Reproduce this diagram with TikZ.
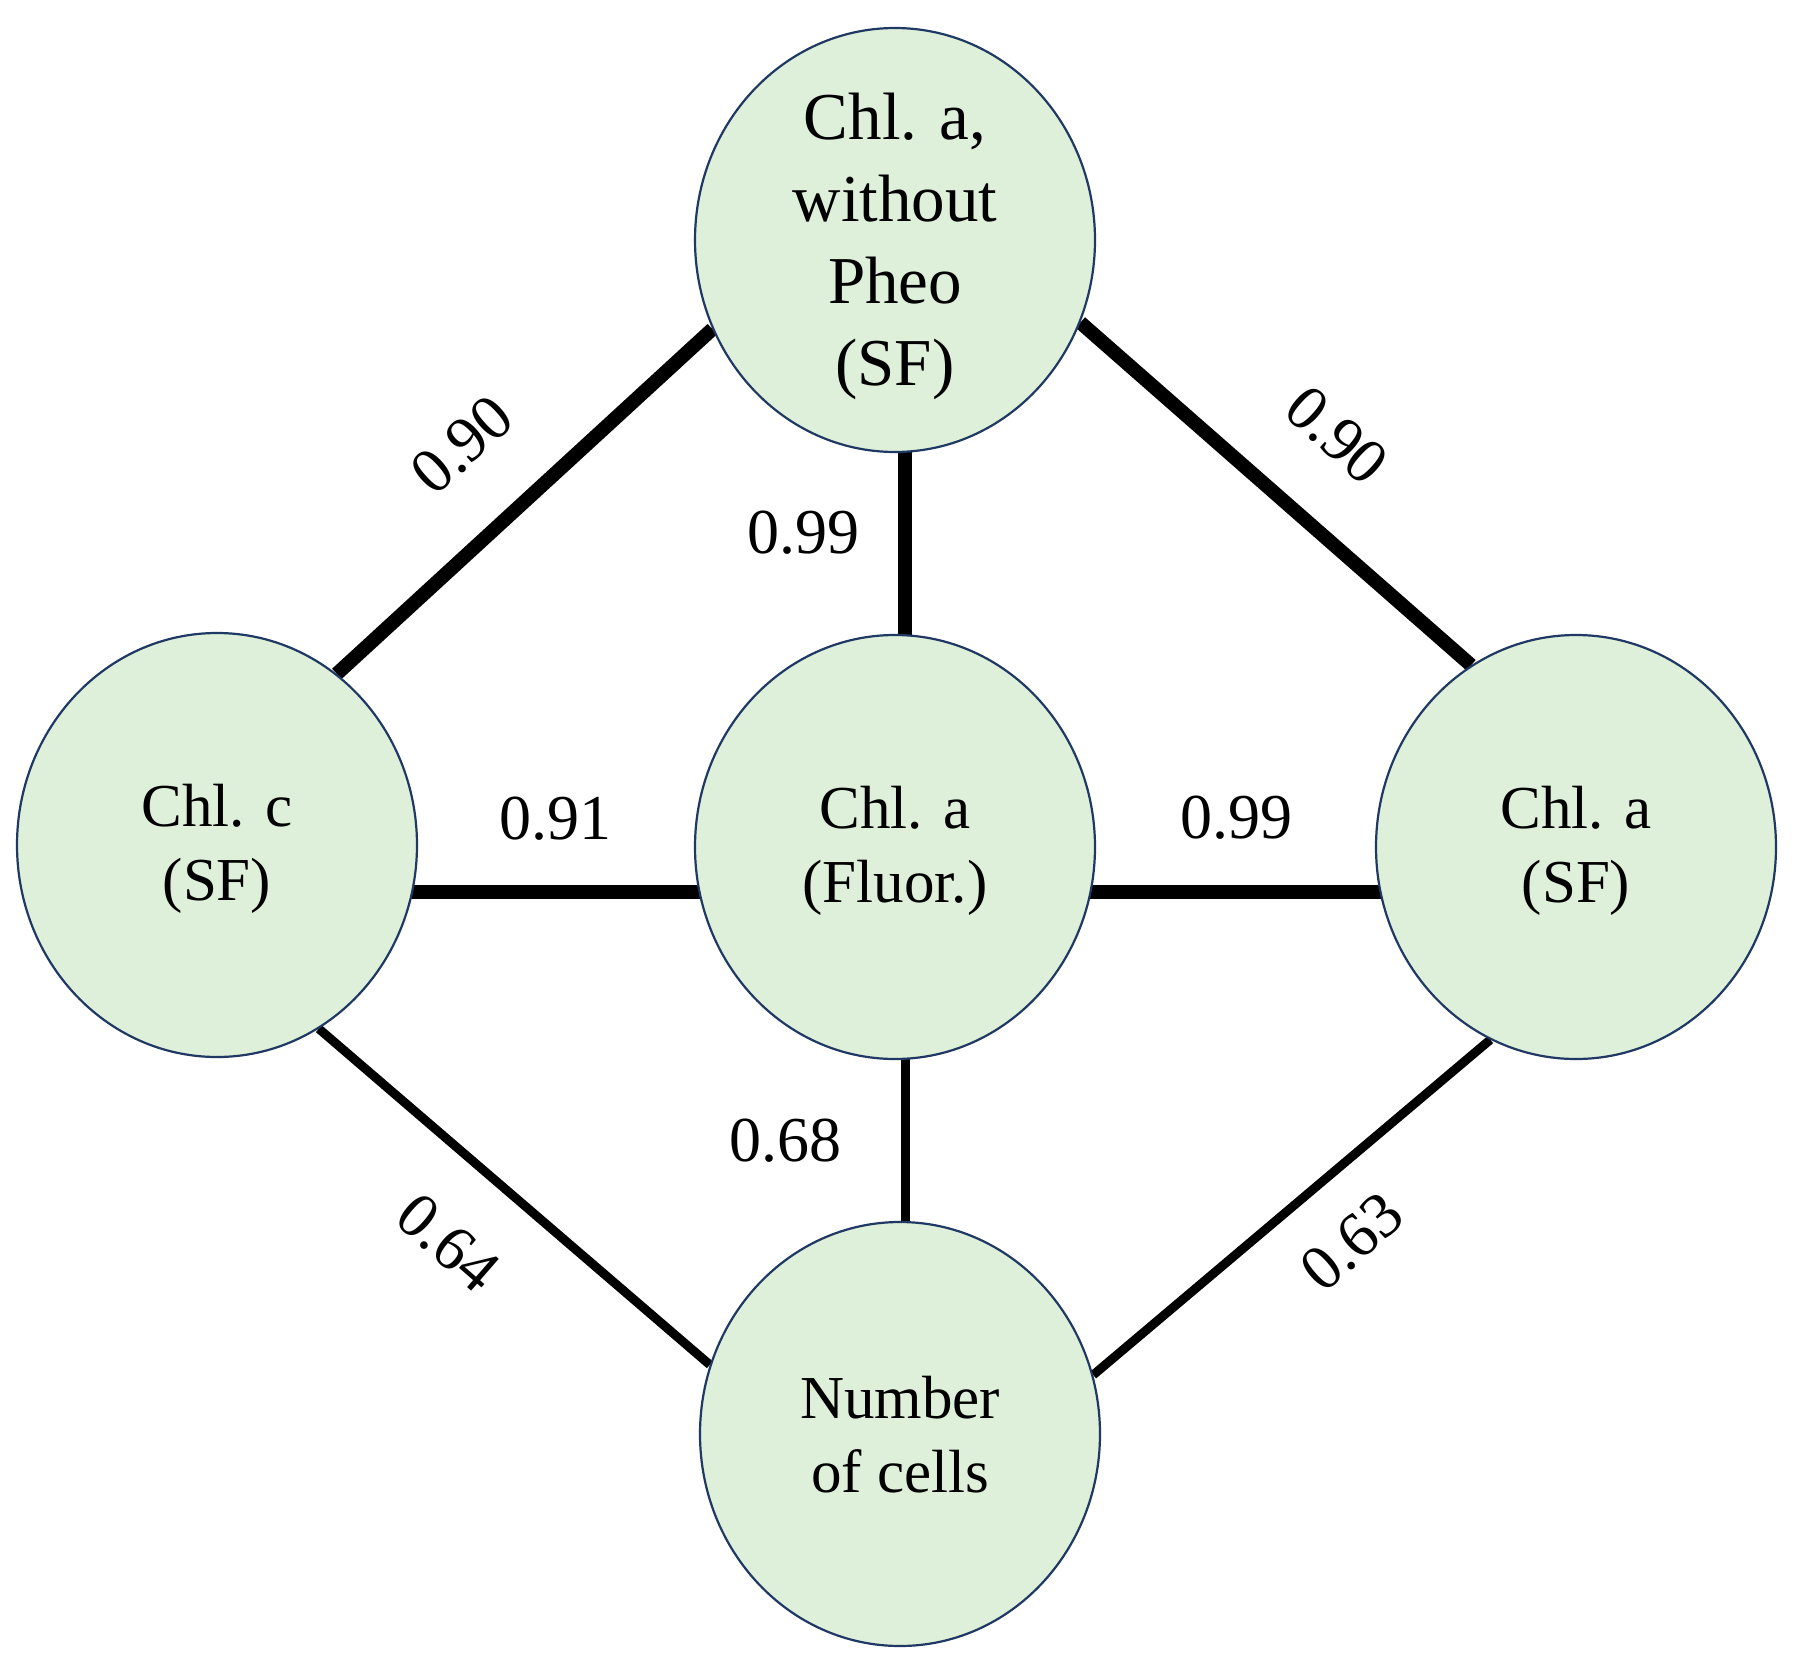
\documentclass[tikz,border=0pt]{standalone}
\usepackage{fontspec}
\setmainfont{Liberation Serif}
\usetikzlibrary{shapes.geometric,backgrounds}
\definecolor{nodefill}{RGB}{222,240,217}
\definecolor{nodeline}{RGB}{31,56,100}
\newcommand{\topstrut}[1]{\rule{0pt}{#1}}
\begin{document}
\begin{tikzpicture}[x=1pt,y=-1pt,
  varnode/.style={ellipse,draw=nodeline,line width=2.2pt,fill=nodefill,
    minimum width=400pt,minimum height=424pt,inner xsep=0pt,inner ysep=-40pt,
    align=center,font=\fontsize{61}{74}\selectfont},
  topnode/.style={varnode,font=\fontsize{67}{82}\selectfont},
  strong/.style={line width=14pt,black},
  weak/.style={line width=9pt,black},
  corr/.style={font=\fontsize{64}{74}\selectfont,inner sep=0pt}]
\useasboundingbox (0,0) rectangle (1804,1670);
\node[topnode] (T) at (895,240) {\topstrut{60pt}Chl. a,\\without\\Pheo\\(SF)};
\node[varnode] (L) at (217,845) {\topstrut{50pt}Chl. c\\(SF)};
\node[varnode] (C) at (895,847) {\topstrut{50pt}Chl. a\\(Fluor.)};
\node[varnode] (R) at (1576,847) {\topstrut{50pt}Chl. a\\(SF)};
\node[varnode] (B) at (900,1434) {\topstrut{44pt}Number\\of cells};
\begin{scope}[on background layer]
\draw[strong] (L.55) -- (T.206);
\draw[strong] (T.336) -- (R.120.5);
\draw[strong] ([xshift=10pt]T.center) -- ([xshift=10pt]C.center);
\draw[strong] ([yshift=-47pt]L.center) -- ([yshift=-45pt]C.center);
\draw[strong] ([yshift=-45pt]C.center) -- ([yshift=-45pt]R.center);
\draw[weak] ([xshift=10pt]C.center) -- ([xshift=5pt]B.center);
\draw[weak] (L.-61) -- (B.160);
\draw[weak] (R.246.3) -- (B.17.5);
\end{scope}
\node[corr,rotate=42] (l1) at (462,445) {0.90};
\node[corr,rotate=-42] (l2) at (1337,435) {0.90};
\node[corr] (l3) at (803,533) {0.99};
\node[corr] (l4) at (555,819) {0.91};
\node[corr] (l5) at (1236,818) {0.99};
\node[corr] (l6) at (785,1141) {0.68};
\node[corr,rotate=-41] (l7) at (448,1243) {0.64};
\node[corr,rotate=41] (l8) at (1352,1242) {0.63};
\end{tikzpicture}
\end{document}
